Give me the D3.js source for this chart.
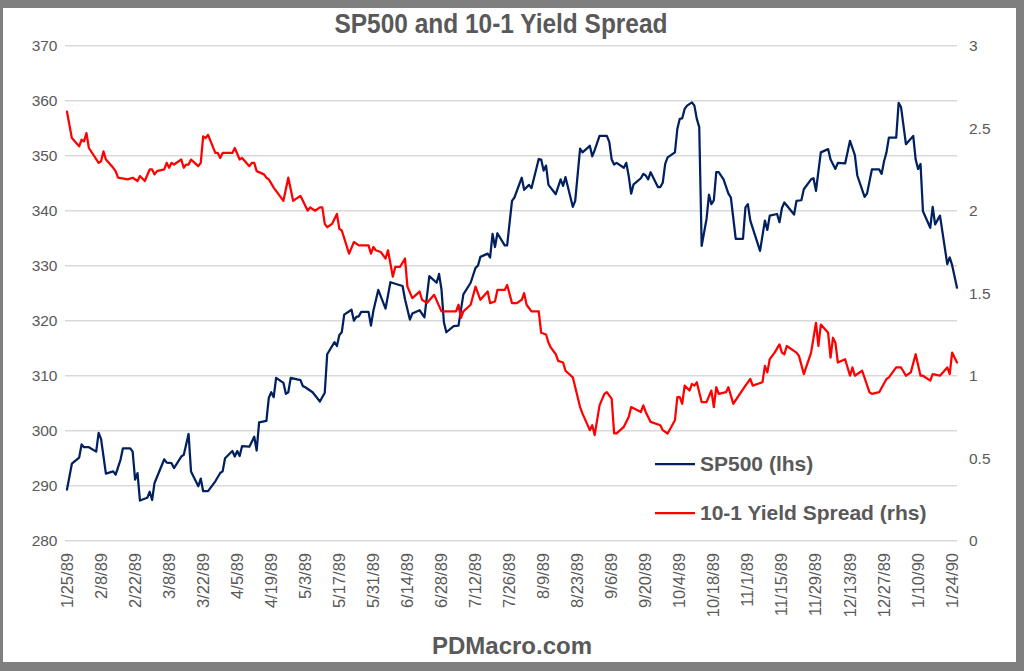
<!DOCTYPE html>
<html><head><meta charset="utf-8">
<script src="https://cdn.jsdelivr.net/npm/d3@7"></script>
<style>body{margin:0;background:#fff}svg{display:block}</style>
</head><body>
<svg id="chart" width="1024" height="671"></svg>
<script>
// ---- data ----
const spxSeries = [
["1/25/89",289.3],["1/27/89",294.0],["1/30/89",295.1],["1/31/89",297.5],["2/1/89",297.0],["2/3/89",297.0],["2/6/89",296.2],["2/7/89",299.6],["2/8/89",298.5],["2/10/89",292.2],
["2/13/89",292.6],["2/14/89",292.0],["2/16/89",294.7],["2/17/89",296.8],["2/20/89",296.8],["2/21/89",296.2],["2/22/89",291.1],["2/23/89",292.3],["2/24/89",287.3],["2/27/89",287.8],
["2/28/89",288.9],["3/1/89",287.4],["3/2/89",290.5],["3/6/89",294.8],["3/7/89",294.2],["3/9/89",294.1],["3/10/89",293.2],["3/13/89",295.3],["3/14/89",295.6],["3/16/89",299.4],
["3/17/89",292.6],["3/20/89",289.9],["3/21/89",291.3],["3/22/89",289.0],["3/24/89",289.0],["3/27/89",290.8],["3/29/89",292.3],["3/30/89",292.6],["3/31/89",295.0],["4/3/89",296.3],
["4/4/89",295.3],["4/5/89",296.3],["4/6/89",295.4],["4/7/89",297.2],["4/10/89",297.1],["4/12/89",298.9],["4/13/89",296.4],["4/14/89",301.5],["4/17/89",301.8],["4/18/89",306.0],
["4/19/89",307.0],["4/20/89",306.1],["4/21/89",309.6],["4/24/89",308.7],["4/25/89",306.7],["4/26/89",307.0],["4/27/89",309.6],["5/1/89",309.2],["5/2/89",308.1],["5/3/89",307.9],
["5/6/89",307.0],["5/9/89",305.3],["5/11/89",306.9],["5/12/89",313.9],["5/15/89",316.1],["5/16/89",315.4],["5/17/89",317.4],["5/18/89",317.9],["5/19/89",321.1],["5/22/89",322.0],
["5/23/89",320.0],["5/24/89",320.7],["5/25/89",320.8],["5/26/89",321.6],["5/29/89",321.6],["5/30/89",319.1],["5/31/89",321.8],["6/2/89",325.6],["6/5/89",322.2],["6/7/89",327.0],
["6/12/89",326.3],["6/13/89",323.9],["6/15/89",320.2],["6/16/89",321.3],["6/19/89",321.9],["6/21/89",320.6],["6/23/89",328.1],["6/26/89",326.9],["6/27/89",328.5],["6/28/89",325.7],
["6/29/89",319.7],["6/30/89",317.9],["7/3/89",319.0],["7/5/89",319.1],["7/7/89",324.8],["7/10/89",326.9],["7/12/89",329.6],["7/13/89",330.0],["7/14/89",331.6],["7/17/89",332.2],
["7/18/89",331.5],["7/19/89",335.8],["7/20/89",333.4],["7/21/89",335.9],["7/24/89",333.7],["7/25/89",333.7],["7/27/89",341.8],["7/28/89",342.4],["7/31/89",346.0],["8/1/89",343.8],
["8/3/89",344.7],["8/4/89",344.1],["8/7/89",349.4],["8/8/89",349.3],["8/9/89",347.3],["8/10/89",348.2],["8/11/89",344.7],["8/14/89",343.0],["8/16/89",345.7],["8/17/89",344.5],
["8/18/89",346.1],["8/21/89",340.7],["8/22/89",341.8],["8/24/89",351.3],["8/25/89",350.6],["8/28/89",351.8],["8/29/89",349.9],["8/30/89",351.0],["9/1/89",353.6],["9/4/89",353.6],
["9/5/89",352.5],["9/6/89",349.3],["9/7/89",348.4],["9/8/89",348.7],["9/11/89",347.8],["9/12/89",348.7],["9/13/89",346.3],["9/14/89",343.1],["9/15/89",344.8],["9/18/89",345.9],
["9/19/89",346.7],["9/20/89",346.4],["9/21/89",345.7],["9/22/89",347.0],["9/25/89",344.3],["9/26/89",344.3],["9/27/89",345.1],["9/28/89",348.5],["9/29/89",349.7],["10/2/89",350.6],
["10/3/89",354.9],["10/4/89",356.7],["10/5/89",356.8],["10/6/89",358.5],["10/7/89",359.1],["10/9/89",359.7],["10/10/89",359.1],["10/11/89",356.7],["10/12/89",355.2],["10/13/89",333.6],
["10/15/89",338.5],["10/16/89",342.9],["10/17/89",341.2],["10/18/89",341.9],["10/19/89",347.0],["10/20/89",347.0],["10/22/89",345.7],["10/24/89",343.1],["10/25/89",342.4],["10/27/89",334.9],
["10/30/89",334.9],["10/31/89",340.6],["11/1/89",341.2],["11/2/89",338.2],["11/6/89",332.7],["11/8/89",338.2],["11/9/89",336.5],["11/10/89",339.1],["11/13/89",339.4],["11/14/89",337.9],
["11/15/89",340.5],["11/16/89",341.5],["11/20/89",339.3],["11/21/89",341.8],["11/23/89",341.9],["11/24/89",343.9],["11/27/89",345.7],["11/28/89",345.9],["11/29/89",343.6],["12/1/89",350.6],
["12/4/89",351.2],["12/5/89",349.3],["12/7/89",347.6],["12/8/89",348.7],["12/11/89",348.6],["12/13/89",352.7],["12/15/89",350.1],["12/16/89",346.4],["12/19/89",342.5],["12/20/89",343.1],
["12/22/89",347.5],["12/25/89",347.5],["12/26/89",346.7],["12/27/89",349.0],["12/28/89",350.6],["12/29/89",353.3],["1/1/90",353.3],["1/2/90",359.6],["1/3/90",358.8],["1/5/90",352.1],
["1/8/90",353.6],["1/9/90",349.3],["1/10/90",347.6],["1/11/90",348.5],["1/12/90",339.9],["1/15/90",336.9],["1/16/90",340.7],["1/17/90",337.5],["1/19/90",339.1],["1/22/90",330.3],
["1/23/90",331.5],["1/24/90",330.1],["1/26/90",326.0]
];
const spreadSeries = [
["1/25/89",2.60],["1/27/89",2.44],["1/30/89",2.39],["1/31/89",2.43],["2/1/89",2.42],["2/2/89",2.47],["2/3/89",2.38],["2/7/89",2.29],["2/8/89",2.30],["2/9/89",2.36],
["2/10/89",2.31],["2/13/89",2.26],["2/14/89",2.24],["2/15/89",2.20],["2/19/89",2.19],["2/21/89",2.20],["2/23/89",2.18],["2/24/89",2.21],["2/26/89",2.18],["2/28/89",2.25],
["3/1/89",2.25],["3/2/89",2.22],["3/3/89",2.24],["3/6/89",2.25],["3/7/89",2.29],["3/8/89",2.26],["3/9/89",2.29],["3/10/89",2.28],["3/13/89",2.31],["3/14/89",2.26],
["3/15/89",2.28],["3/16/89",2.28],["3/17/89",2.31],["3/20/89",2.27],["3/21/89",2.29],["3/22/89",2.45],["3/23/89",2.44],["3/24/89",2.46],["3/27/89",2.35],["3/28/89",2.35],
["3/29/89",2.32],["3/30/89",2.35],["4/3/89",2.35],["4/4/89",2.38],["4/6/89",2.31],["4/7/89",2.32],["4/10/89",2.27],["4/11/89",2.29],["4/12/89",2.29],["4/13/89",2.24],
["4/16/89",2.22],["4/17/89",2.20],["4/18/89",2.19],["4/20/89",2.14],["4/24/89",2.06],["4/26/89",2.20],["4/28/89",2.06],["4/29/89",2.07],["5/1/89",2.09],["5/4/89",2.00],
["5/5/89",2.02],["5/7/89",2.00],["5/9/89",2.02],["5/10/89",2.02],["5/11/89",1.92],["5/12/89",1.90],["5/14/89",1.92],["5/16/89",1.98],["5/17/89",1.89],["5/18/89",1.88],
["5/21/89",1.74],["5/23/89",1.81],["5/25/89",1.79],["5/29/89",1.79],["5/30/89",1.74],["5/31/89",1.78],["6/1/89",1.76],["6/3/89",1.75],["6/5/89",1.71],["6/6/89",1.76],
["6/8/89",1.60],["6/9/89",1.66],["6/11/89",1.66],["6/13/89",1.71],["6/14/89",1.54],["6/16/89",1.47],["6/19/89",1.51],["6/20/89",1.46],["6/22/89",1.44],["6/25/89",1.49],
["6/28/89",1.39],["7/4/89",1.39],["7/5/89",1.43],["7/6/89",1.35],["7/7/89",1.39],["7/10/89",1.43],["7/12/89",1.54],["7/14/89",1.46],["7/17/89",1.51],["7/18/89",1.44],
["7/20/89",1.45],["7/21/89",1.52],["7/24/89",1.52],["7/25/89",1.55],["7/27/89",1.44],["7/29/89",1.44],["7/31/89",1.46],["8/1/89",1.50],["8/2/89",1.43],["8/4/89",1.39],
["8/7/89",1.39],["8/8/89",1.26],["8/10/89",1.25],["8/11/89",1.20],["8/12/89",1.17],["8/14/89",1.13],["8/15/89",1.09],["8/17/89",1.08],["8/18/89",1.03],["8/21/89",0.99],
["8/24/89",0.81],["8/25/89",0.77],["8/28/89",0.67],["8/29/89",0.70],["8/30/89",0.64],["9/1/89",0.82],["9/3/89",0.89],["9/4/89",0.90],["9/6/89",0.86],["9/7/89",0.65],
["9/8/89",0.65],["9/11/89",0.69],["9/13/89",0.75],["9/14/89",0.81],["9/18/89",0.78],["9/19/89",0.82],["9/20/89",0.78],["9/22/89",0.72],["9/26/89",0.70],["9/27/89",0.67],
["9/29/89",0.65],["10/2/89",0.73],["10/3/89",0.87],["10/4/89",0.87],["10/5/89",0.83],["10/6/89",0.94],["10/8/89",0.91],["10/9/89",0.95],["10/10/89",0.94],["10/11/89",0.96],
["10/13/89",0.84],["10/15/89",0.84],["10/17/89",0.91],["10/18/89",0.81],["10/19/89",0.93],["10/20/89",0.89],["10/23/89",0.90],["10/24/89",0.93],["10/26/89",0.83],["10/31/89",0.94],
["11/2/89",0.98],["11/3/89",0.94],["11/7/89",0.96],["11/8/89",1.06],["11/9/89",1.02],["11/10/89",1.10],["11/12/89",1.14],["11/14/89",1.19],["11/15/89",1.14],["11/16/89",1.13],
["11/17/89",1.18],["11/21/89",1.14],["11/22/89",1.12],["11/24/89",1.01],["11/27/89",1.14],["11/29/89",1.32],["11/30/89",1.18],["12/1/89",1.31],["12/4/89",1.26],["12/5/89",1.11],
["12/6/89",1.23],["12/7/89",1.20],["12/8/89",1.08],["12/11/89",1.10],["12/13/89",1.00],["12/14/89",1.05],["12/15/89",1.00],["12/18/89",1.03],["12/21/89",0.90],["12/22/89",0.89],
["12/25/89",0.90],["12/28/89",0.98],["12/29/89",0.99],["1/1/90",1.05],["1/3/90",1.05],["1/5/90",1.00],["1/7/90",1.02],["1/9/90",1.13],["1/11/90",1.00],["1/12/90",1.00],
["1/15/90",0.97],["1/16/90",1.01],["1/19/90",1.00],["1/22/90",1.05],["1/23/90",1.01],["1/24/90",1.14],["1/26/90",1.08]
];
const xTickLabels = ["1/25/89","2/8/89","2/22/89","3/8/89","3/22/89","4/5/89","4/19/89","5/3/89","5/17/89","5/31/89","6/14/89","6/28/89","7/12/89","7/26/89","8/9/89","8/23/89","9/6/89","9/20/89","10/4/89","10/18/89","11/1/89","11/15/89","11/29/89","12/13/89","12/27/89","1/10/90","1/24/90"];
const leftTicks = [280,290,300,310,320,330,340,350,360,370];
const rightTicks = [0,0.5,1,1.5,2,2.5,3];
const rightTickLabels = ["0","0.5","1","1.5","2","2.5","3"];
const titleText = "SP500 and 10-1 Yield Spread";
const legendLabels = ["SP500 (lhs)","10-1 Yield Spread (rhs)"];
const footerText = "PDMacro.com";

// ---- drawing ----
const parse = d3.timeParse("%m/%d/%y");
const svg = d3.select("#chart");
const W = 1024, H = 671;
const plot = {left:65, right:957, top:45.7, bottom:540.7};
const textColor = "#595959";
const blue = "#002060", red = "#ff0000";
const sans = "'Liberation Sans', Arial, sans-serif";

svg.append("rect").attr("width",W).attr("height",H).attr("fill","#7f7f7f");
svg.append("rect").attr("x",3).attr("y",8).attr("width",W-11).attr("height",H-17).attr("fill","#fff");

const x = d3.scaleTime().domain([parse("1/25/89"), parse("1/26/90")]).range([67, 957]);
const yL = d3.scaleLinear().domain([280,370]).range([plot.bottom, plot.top]);
const yR = d3.scaleLinear().domain([0,3]).range([plot.bottom, plot.top]);

// gridlines
svg.append("g").selectAll("line").data(leftTicks).join("line")
  .attr("x1",plot.left).attr("x2",plot.right)
  .attr("y1",d=>yL(d)).attr("y2",d=>yL(d))
  .attr("stroke","#d9d9d9").attr("stroke-width",1.5);

// left axis labels
svg.append("g").selectAll("text").data(leftTicks).join("text")
  .attr("x",57.5).attr("y",d=>yL(d)).attr("dy","0.35em")
  .attr("text-anchor","end").attr("fill",textColor)
  .style("font-family",sans).style("font-size","15.5px")
  .text(d=>d);

// right axis labels
svg.append("g").selectAll("text").data(rightTicks).join("text")
  .attr("x",969).attr("y",d=>yR(d)).attr("dy","0.35em")
  .attr("text-anchor","start").attr("fill",textColor)
  .style("font-family",sans).style("font-size","15.5px")
  .text((d,i)=>rightTickLabels[i]);

// x axis labels (rotated)
svg.append("g").selectAll("text").data(xTickLabels).join("text")
  .attr("transform",d=>`translate(${x(parse(d))+5.5},553) rotate(-90)`)
  .attr("text-anchor","end").attr("fill",textColor)
  .style("font-family",sans).style("font-size","16.5px")
  .text(d=>d);

// lines
const spxLine = d3.line().x(d=>x(parse(d[0]))).y(d=>yL(d[1]));
const sprLine = d3.line().x(d=>x(parse(d[0]))).y(d=>yR(d[1]));
svg.append("path").datum(spxSeries).attr("d",spxLine).attr("fill","none")
  .attr("stroke",blue).attr("stroke-width",2.25).attr("stroke-linejoin","round").attr("stroke-linecap","round");
svg.append("path").datum(spreadSeries).attr("d",sprLine).attr("fill","none")
  .attr("stroke",red).attr("stroke-width",2.25).attr("stroke-linejoin","round").attr("stroke-linecap","round");

// title (narrow bold look)
svg.append("text").attr("x",501).attr("y",33).attr("text-anchor","middle")
  .attr("textLength",333).attr("lengthAdjust","spacingAndGlyphs")
  .attr("fill",textColor).style("font-family",sans)
  .style("font-weight","bold").style("font-size","27px").text(titleText);

// legend
const legendY = [464, 513];
const legendColors = [blue, red];
const lg = svg.append("g");
legendLabels.forEach((t,i)=>{
  lg.append("line").attr("x1",655).attr("x2",695).attr("y1",legendY[i]).attr("y2",legendY[i])
    .attr("stroke",legendColors[i]).attr("stroke-width",2.25);
  lg.append("text").attr("x",700).attr("y",legendY[i]).attr("dy","0.35em")
    .attr("fill",textColor).style("font-family",sans)
    .style("font-weight","bold").style("font-size","21px").text(t);
});

// footer
svg.append("text").attr("x",512).attr("y",654).attr("text-anchor","middle")
  .attr("fill",textColor).style("font-family",sans)
  .style("font-weight","bold").style("font-size","24px").text(footerText);
</script>
</body></html>
